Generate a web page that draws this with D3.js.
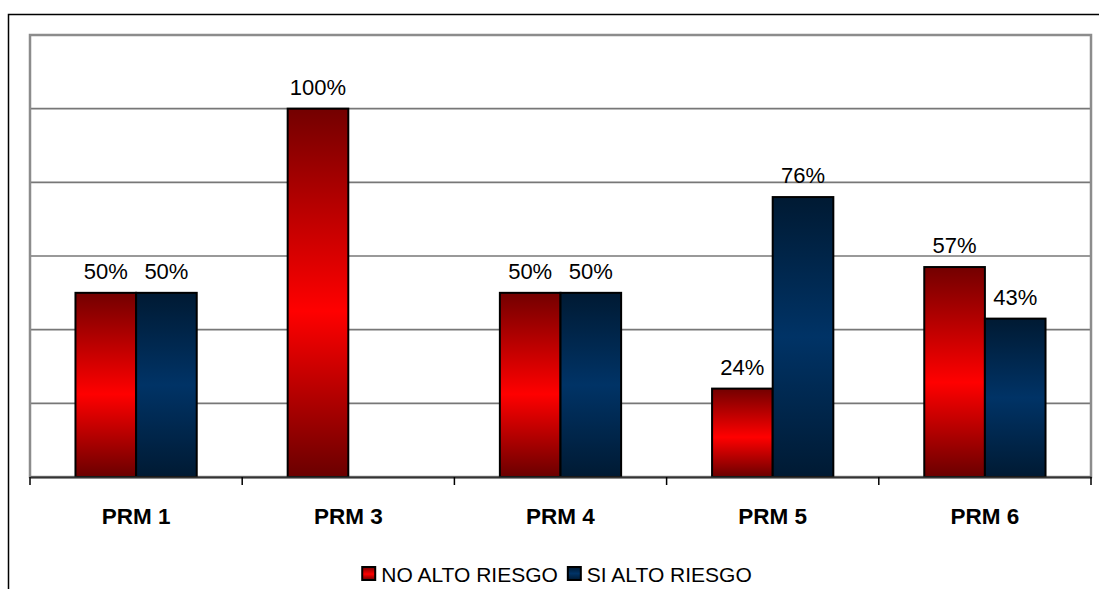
<!DOCTYPE html>
<html>
<head>
<meta charset="utf-8">
<script src="https://cdn.jsdelivr.net/npm/d3@7"></script>
<style>
  html, body { margin: 0; padding: 0; background: #fff; }
  svg { display: block; font-family: Arial, "Liberation Sans", sans-serif; }
</style>
</head>
<body>
<svg id="chart" width="1099" height="589"></svg>
<script>
// Categories, series and values
const categories = ["PRM 1", "PRM 3", "PRM 4", "PRM 5", "PRM 6"];
const seriesNames = ["NO ALTO RIESGO", "SI ALTO RIESGO"];
const noAltoRiesgo = [50, 100, 50, 24, 57];
const siAltoRiesgo = [50, 0, 50, 76, 43];
const yTicks = [0, 20, 40, 60, 80, 100, 120];

const seriesValues = [noAltoRiesgo, siAltoRiesgo];
const rows = categories.map((c, i) => ({
  category: c,
  values: seriesNames.map((s, j) => ({ series: s, idx: j, value: seriesValues[j][i] }))
}));

const svg = d3.select("#chart");
const plot = { left: 30, right: 1091, top: 35, bottom: 477 };

// Gradients: dark at the edges, bright in the middle
const defs = svg.append("defs");
const gradStops = [
  [["0%", "#730000"], ["55%", "#ff0000"], ["100%", "#6a0000"]],
  [["0%", "#001a33"], ["50%", "#003366"], ["100%", "#001a33"]]
];
gradStops.forEach((stops, i) => {
  const g = defs.append("linearGradient")
    .attr("id", "grad" + i)
    .attr("x1", 0).attr("y1", 0).attr("x2", 0).attr("y2", 1);
  stops.forEach(([o, c]) => g.append("stop").attr("offset", o).attr("stop-color", c));
});

// Outer chart frame (open past the right and bottom edges)
svg.append("rect")
  .attr("x", 8.5).attr("y", 14.5)
  .attr("width", 1200).attr("height", 700)
  .attr("fill", "none").attr("stroke", "#000").attr("stroke-width", 1.5);

const x0 = d3.scaleBand().domain(categories).range([plot.left, plot.right]).padding(0);
const groupW = x0.bandwidth() / 1.75;
const x1 = d3.scaleBand().domain(seriesNames).range([0, groupW]).padding(0);
const y = d3.scaleLinear().domain([0, 120]).range([plot.bottom, plot.top]);

// Gridlines
svg.append("g")
  .selectAll("line")
  .data(yTicks.filter(t => t > 0 && t < 120))
  .join("line")
  .attr("x1", plot.left).attr("x2", plot.right)
  .attr("y1", d => y(d)).attr("y2", d => y(d))
  .attr("stroke", "#777").attr("stroke-width", 1.6);

// Plot area border
svg.append("rect")
  .attr("x", plot.left).attr("y", plot.top)
  .attr("width", plot.right - plot.left).attr("height", plot.bottom - plot.top)
  .attr("fill", "none").attr("stroke", "#8c8c8c").attr("stroke-width", 2.5);

// Bars
const groups = svg.append("g")
  .selectAll("g")
  .data(rows)
  .join("g")
  .attr("transform", d => `translate(${x0(d.category) + (x0.bandwidth() - groupW) / 2},0)`);

groups.selectAll("rect")
  .data(d => d.values.filter(v => v.value > 0))
  .join("rect")
  .attr("x", d => x1(d.series))
  .attr("width", x1.bandwidth())
  .attr("y", d => y(d.value))
  .attr("height", d => y(0) - y(d.value))
  .attr("fill", d => `url(#grad${d.idx})`)
  .attr("stroke", "#000").attr("stroke-width", 2);

groups.selectAll("text.val")
  .data(d => d.values.filter(v => v.value > 0))
  .join("text")
  .attr("class", "val")
  .attr("x", d => x1(d.series) + x1.bandwidth() / 2)
  .attr("y", d => y(d.value) - 14)
  .attr("text-anchor", "middle")
  .attr("font-size", 22)
  .attr("fill", "#000")
  .text(d => d.value + "%");

// X axis
const xAxis = svg.append("g")
  .attr("transform", `translate(0,${plot.bottom})`)
  .call(d3.axisBottom(x0).tickSize(0).tickPadding(0));
xAxis.select(".domain").attr("stroke", "#333").attr("stroke-width", 2);
xAxis.selectAll(".tick text").remove();
xAxis.selectAll(".tick line").remove();

// Tick marks at category boundaries
svg.append("g")
  .selectAll("line")
  .data(categories.map(c => x0(c)).concat([plot.right]))
  .join("line")
  .attr("x1", d => d).attr("x2", d => d)
  .attr("y1", plot.bottom).attr("y2", plot.bottom + 8)
  .attr("stroke", "#000").attr("stroke-width", 1.5);

// Category labels
svg.append("g")
  .selectAll("text")
  .data(categories)
  .join("text")
  .attr("x", d => x0(d) + x0.bandwidth() / 2)
  .attr("y", 524)
  .attr("text-anchor", "middle")
  .attr("font-size", 22.5)
  .attr("font-weight", "bold")
  .attr("fill", "#000")
  .text(d => d);

// Legend, centred under the plot
const legend = svg.append("g");
const legendItems = legend.selectAll("g")
  .data(seriesNames)
  .join("g");
legendItems.append("rect")
  .attr("x", 0).attr("y", 0).attr("width", 13).attr("height", 13)
  .attr("fill", (d, i) => `url(#grad${i})`)
  .attr("stroke", "#000").attr("stroke-width", 2);
legendItems.append("text")
  .attr("x", 19).attr("y", 14.5)
  .attr("font-size", 21)
  .attr("fill", "#000")
  .text(d => d);
let offset = 0;
legendItems.each(function () {
  d3.select(this).attr("transform", `translate(${offset},0)`);
  offset += this.getBBox().width + 10;
});
const legendW = offset - 10;
legend.attr("transform", `translate(${557 - legendW / 2},567)`);
</script>
</body>
</html>
